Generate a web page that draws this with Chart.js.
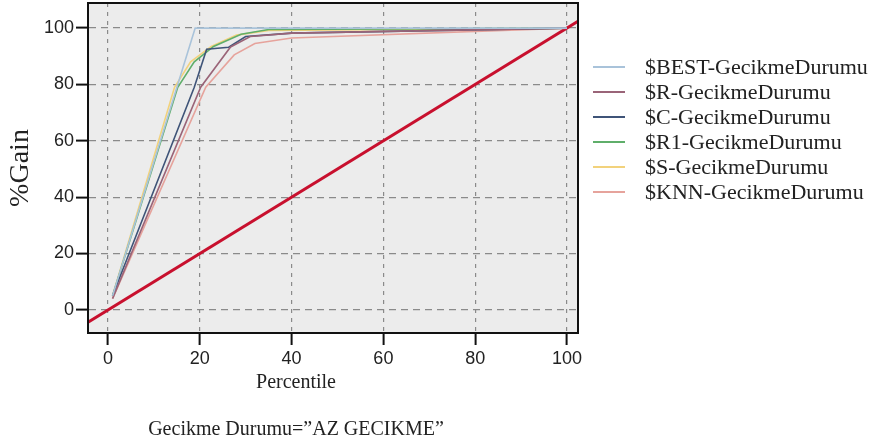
<!DOCTYPE html>
<html>
<head>
<meta charset="utf-8">
<script src="https://cdn.jsdelivr.net/npm/chart.js@4"></script>
<style>
  html, body { margin: 0; padding: 0; background: #fff; }
  #wrap { width: 884px; height: 446px; }
</style>
</head>
<body>
<div id="wrap"><canvas id="gainChart"></canvas></div>
<script>
// series names (legend)
const seriesNames = ["$BEST-GecikmeDurumu", "$R-GecikmeDurumu", "$C-GecikmeDurumu",
  "$R1-GecikmeDurumu", "$S-GecikmeDurumu", "$KNN-GecikmeDurumu"];
const seriesColors = ["#a9c3da", "#9a6478", "#3f5478", "#5fae6a", "#f2d27c", "#e6a39c"];

// percentile / gain points
const bestX = [1, 19, 100];
const bestY = [5, 100, 100];
const rX = [1, 20.2, 26.7, 31, 40, 100];
const rY = [4, 79, 93.3, 97, 98.2, 100];
const cX = [1, 18.8, 21.5, 26.3, 30, 40, 100];
const cY = [5, 79, 92.5, 93.2, 97, 98.2, 100];
const r1X = [1, 15.2, 18.8, 23, 29, 35, 100];
const r1Y = [5, 79, 88, 93.5, 97.8, 99.5, 100];
const sX = [1, 14.5, 18, 22.5, 28, 35, 100];
const sY = [5, 79, 88, 93.5, 97.5, 99.2, 100];
const knnX = [1, 21.3, 27.5, 32, 40, 100];
const knnY = [4, 79, 90.5, 94.5, 96.5, 100];

// baseline y = x
const baseX = [-10, 110];
const baseY = [-10, 110];

const xTicks = [0, 20, 40, 60, 80, 100];
const yTicks = [0, 20, 40, 60, 80, 100];

const xTitle = "Percentile";
const caption = "Gecikme Durumu=\u201dAZ GECIKME\u201d";

const allX = [bestX, rX, cX, r1X, sX, knnX];
const allY = [bestY, rY, cY, r1Y, sY, knnY];

function toPoints(xs, ys) {
    return xs.map((x, i) => ({ x: x, y: ys[i] }));
}

const datasets = seriesNames.map((name, i) => ({
    label: name,
    data: toPoints(allX[i], allY[i]),
    borderColor: seriesColors[i],
    borderWidth: 1.6,
    showLine: true,
    pointRadius: 0,
    fill: false
}));
datasets.push({
    label: "baseline",
    data: toPoints(baseX, baseY),
    borderColor: "#c8102e",
    borderWidth: 3,
    showLine: true,
    pointRadius: 0,
    fill: false
});

const serif = "'Liberation Serif', 'Times New Roman', serif";

// 背景、外框、图例和底部文字
const frame = {
    id: "frame",
    beforeDraw(chart) {
        const { ctx, chartArea: a } = chart;
        ctx.save();
        ctx.fillStyle = "#ececec";
        ctx.fillRect(a.left, a.top, a.right - a.left, a.bottom - a.top);
        ctx.restore();
    },
    afterDraw(chart) {
        const { ctx, chartArea: a } = chart;
        ctx.save();
        ctx.strokeStyle = "#111";
        ctx.lineWidth = 2;
        ctx.strokeRect(a.left, a.top, a.right - a.left, a.bottom - a.top);
        ctx.restore();

        // legend on the right
        ctx.save();
        ctx.font = "22px " + serif;
        ctx.textBaseline = "middle";
        seriesNames.forEach((name, i) => {
            const y = 67 + i * 25;
            ctx.strokeStyle = seriesColors[i];
            ctx.lineWidth = 2;
            ctx.beginPath();
            ctx.moveTo(593, y);
            ctx.lineTo(625, y);
            ctx.stroke();
            ctx.fillStyle = "#222";
            ctx.fillText(name, 645, y + 1);
        });
        ctx.restore();

        // x title and caption
        ctx.save();
        ctx.fillStyle = "#222";
        ctx.textAlign = "center";
        ctx.textBaseline = "middle";
        ctx.font = "20px " + serif;
        ctx.fillText(xTitle, 296, 383);
        ctx.fillText(caption, 296, 430);
        ctx.restore();
    }
};

const tickFont = { family: "'Liberation Sans', Arial, sans-serif", size: 18 };

function noPad(scale) {
    scale.paddingTop = 0;
    scale.paddingBottom = 0;
    scale.paddingLeft = 0;
    scale.paddingRight = 0;
}

new Chart(document.getElementById("gainChart"), {
    type: "scatter",
    data: { datasets: datasets },
    options: {
        responsive: true,
        maintainAspectRatio: false,
        animation: false,
        layout: { padding: { top: 3, right: 306, left: 0, bottom: 0 } },
        plugins: {
            legend: { display: false },
            tooltip: { enabled: false }
        },
        scales: {
            x: {
                type: "linear",
                min: -4.35,
                max: 102.4,
                afterBuildTicks: (scale) => { scale.ticks = xTicks.map(v => ({ value: v })); },
                afterFit: (scale) => { scale.height = 113; noPad(scale); },
                ticks: { includeBounds: false, color: "#222", font: tickFont, padding: 3, maxRotation: 0 },
                grid: {
                    color: "#8a8a8a",
                    lineWidth: 1.2,
                    tickLength: 12,
                    tickColor: "#111",
                    tickWidth: 2,
                    tickBorderDash: []
                },
                border: { display: true, color: "#111", width: 2, dash: [4, 5] }
            },
            y: {
                type: "linear",
                min: -8.2,
                max: 108.9,
                afterBuildTicks: (scale) => { scale.ticks = yTicks.map(v => ({ value: v })); },
                afterFit: (scale) => { scale.width = 88; noPad(scale); },
                ticks: { includeBounds: false, color: "#222", font: tickFont, padding: 2 },
                grid: {
                    color: "#8a8a8a",
                    lineWidth: 1.2,
                    tickLength: 12,
                    tickColor: "#111",
                    tickWidth: 2,
                    tickBorderDash: []
                },
                border: { display: true, color: "#111", width: 2, dash: [7, 5] },
                title: {
                    display: true,
                    text: "%Gain",
                    color: "#222",
                    font: { family: serif, size: 28 },
                    padding: { top: 4, bottom: 0 }
                }
            }
        }
    },
    plugins: [frame]
});
</script>
</body>
</html>
